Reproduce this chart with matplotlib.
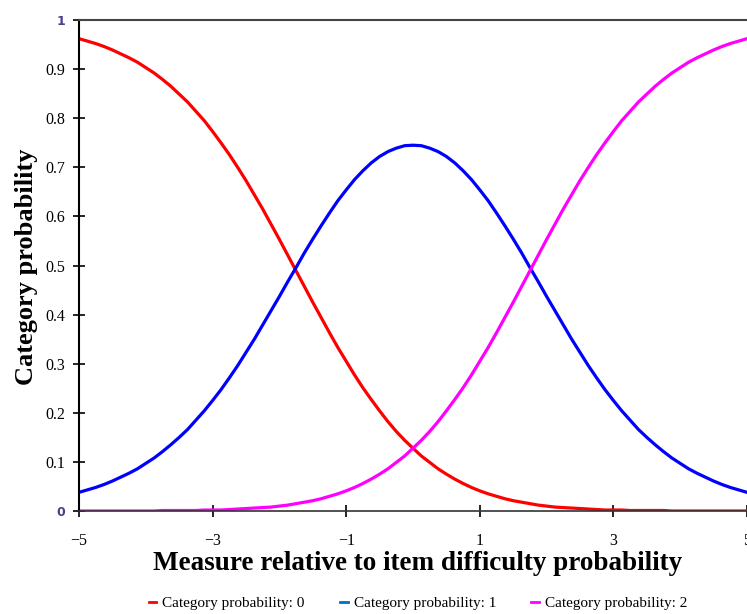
import matplotlib
matplotlib.use("Agg")
import matplotlib.pyplot as plt
from matplotlib.lines import Line2D

# Measure grid (step 0.125 from -5 to 5) and values
measure = [i * 0.125 for i in range(-40, 41)]
prob_0 = [0.962, 0.957, 0.952, 0.946, 0.939, 0.931, 0.923, 0.914, 0.903, 0.892,
          0.879, 0.865, 0.849, 0.833, 0.814, 0.795, 0.773, 0.750, 0.726, 0.700,
          0.673, 0.644, 0.615, 0.584, 0.553, 0.521, 0.489, 0.457, 0.425, 0.394,
          0.363, 0.333, 0.305, 0.277, 0.251, 0.227, 0.204, 0.182, 0.162, 0.144,
          0.128,
          0.112, 0.099, 0.086, 0.075, 0.065, 0.056, 0.048, 0.041, 0.035, 0.030,
          0.025, 0.021, 0.018, 0.015, 0.012, 0.010, 0.008, 0.007, 0.006, 0.005,
          0.004, 0.003, 0.002, 0.002, 0.002, 0.001, 0.001, 0.001, 0.001, 0.001,
          0.000, 0.000, 0.000, 0.000, 0.000, 0.000, 0.000, 0.000, 0.000, 0.000]
prob_1 = [0.038, 0.043, 0.048, 0.054, 0.061, 0.069, 0.077, 0.086, 0.097, 0.108,
          0.121, 0.135, 0.150, 0.166, 0.185, 0.204, 0.225, 0.247, 0.271, 0.296,
          0.323, 0.350, 0.379, 0.408, 0.437, 0.467, 0.496, 0.526, 0.554, 0.581,
          0.607, 0.632, 0.654, 0.675, 0.693, 0.709, 0.722, 0.732, 0.739, 0.744,
          0.745,
          0.744, 0.739, 0.732, 0.722, 0.709, 0.693, 0.675, 0.654, 0.632, 0.607,
          0.581, 0.554, 0.526, 0.496, 0.467, 0.437, 0.408, 0.379, 0.350, 0.323,
          0.296, 0.271, 0.247, 0.225, 0.204, 0.185, 0.166, 0.150, 0.135, 0.121,
          0.108, 0.097, 0.086, 0.077, 0.069, 0.061, 0.054, 0.048, 0.043, 0.038]
prob_2 = [0.000, 0.000, 0.000, 0.000, 0.000, 0.000, 0.000, 0.000, 0.000, 0.000,
          0.001, 0.001, 0.001, 0.001, 0.001, 0.002, 0.002, 0.002, 0.003, 0.004,
          0.005, 0.006, 0.007, 0.008, 0.010, 0.012, 0.015, 0.018, 0.021, 0.025,
          0.030, 0.035, 0.041, 0.048, 0.056, 0.065, 0.075, 0.086, 0.099, 0.112,
          0.128,
          0.144, 0.162, 0.182, 0.204, 0.227, 0.251, 0.277, 0.305, 0.333, 0.363,
          0.394, 0.425, 0.457, 0.489, 0.521, 0.553, 0.584, 0.615, 0.644, 0.673,
          0.700, 0.726, 0.750, 0.773, 0.795, 0.814, 0.833, 0.849, 0.865, 0.879,
          0.892, 0.903, 0.914, 0.923, 0.931, 0.939, 0.946, 0.952, 0.957, 0.962]

x_ticks = [-5, -3, -1, 1, 3, 5]
x_tick_labels = ["\u22125", "\u22123", "\u22121", "1", "3", "5"]
y_ticks = [0, 0.1, 0.2, 0.3, 0.4, 0.5, 0.6, 0.7, 0.8, 0.9, 1]
y_tick_labels = ["0", "0.1", "0.2", "0.3", "0.4", "0.5", "0.6", "0.7", "0.8", "0.9", "1"]
legend_labels = ["Category probability: 0", "Category probability: 1", "Category probability: 2"]
line_colors = ["#ff0000", "#0000ff", "#ff00ff"]
legend_colors = ["#ff0000", "#0070c0", "#ff00ff"]

serif = ["Liberation Serif", "DejaVu Serif"]

fig = plt.figure(figsize=(7.47, 6.14), dpi=100)
ax = fig.add_axes([79 / 747, 1 - 511 / 614, 1 - 79 / 747, (511 - 20) / 614])

for series, col in zip([prob_0, prob_1, prob_2], line_colors):
    ax.plot(measure, series, color=col, lw=2.3, solid_joinstyle="round")

ax.set_xlim(-5, 5)
ax.set_ylim(0, 1)
ax.set_xticks(x_ticks)
ax.set_xticklabels(x_tick_labels, fontfamily=serif, fontsize=11.5)
ax.set_yticks(y_ticks)
ax.set_yticklabels(y_tick_labels, fontfamily=serif, fontsize=11.5)
for lab in (ax.get_yticklabels()[0], ax.get_yticklabels()[-1]):
    lab.set_fontfamily("DejaVu Sans")
    lab.set_fontsize(9)
    lab.set_fontweight("bold")
    lab.set_color("#4a3f8a")

ax.tick_params(axis="both", direction="inout", length=8, width=1.2, color="black")
ax.tick_params(axis="x", pad=12)
ax.tick_params(axis="y", pad=6)

ax.spines["right"].set_visible(False)
ax.spines["top"].set_color("#444444")
ax.spines["top"].set_linewidth(1.5)
ax.spines["left"].set_linewidth(1.5)
ax.spines["bottom"].set_linewidth(1.2)
ax.spines["bottom"].set_color("#333333")

fig.text(418 / 747, 1 - 564 / 614, "Measure relative to item difficulty probability",
         ha="center", va="center", fontfamily=serif, fontweight="bold", fontsize=19.5)
fig.text(27 / 747, 1 - 267 / 614, "Category probability", rotation=90,
         ha="center", va="center", fontfamily=serif, fontweight="bold", fontsize=19)

handles = [Line2D([], [], color=c, lw=2) for c in legend_colors]
fig.legend(handles, legend_labels, loc="center", bbox_to_anchor=(418 / 747, 1 - 603 / 614),
           ncol=3, frameon=False, handlelength=0.5, handletextpad=0.4, columnspacing=2.3,
           prop={"family": serif, "size": 11})

fig.savefig("out.png", dpi=100)
